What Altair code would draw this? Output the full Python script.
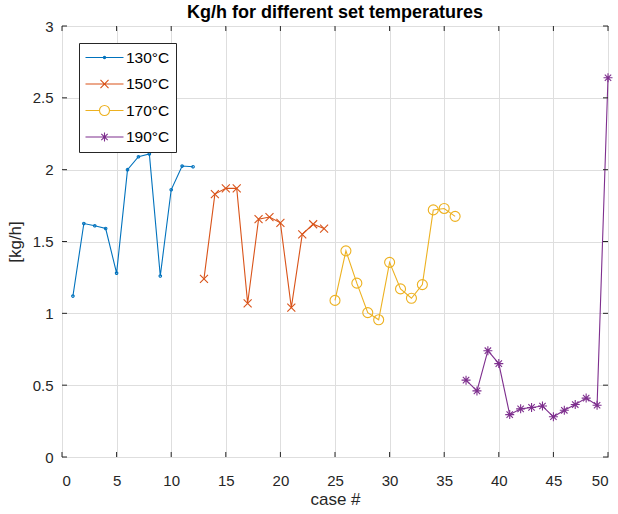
import altair as alt
import pandas as pd

temps = ["130°C", "150°C", "170°C", "190°C"]
colors = ["#0072BD", "#D95319", "#EDB120", "#7E2F8E"]

case_130 = list(range(1, 13))
kgh_130 = [1.12, 1.625, 1.61, 1.59, 1.28, 2.0, 2.09, 2.11, 1.26, 1.86, 2.025, 2.02]
case_150 = list(range(13, 25))
kgh_150 = [1.24, 1.83, 1.87, 1.87, 1.07, 1.655, 1.67, 1.63, 1.04, 1.55, 1.62, 1.59]
case_170 = list(range(25, 37))
kgh_170 = [1.09, 1.435, 1.21, 1.005, 0.955, 1.355, 1.17, 1.105, 1.2, 1.72, 1.73, 1.675]
case_190 = list(range(37, 51))
kgh_190 = [0.535, 0.46, 0.74, 0.65, 0.295, 0.335, 0.345, 0.355, 0.28, 0.325, 0.365, 0.41, 0.36, 2.64]

x_ticks = [0, 5, 10, 15, 20, 25, 30, 35, 40, 45, 50]
y_ticks = [0, 0.5, 1, 1.5, 2, 2.5, 3]

rows = []
for t, cs, vs in zip(temps, [case_130, case_150, case_170, case_190],
                     [kgh_130, kgh_150, kgh_170, kgh_190]):
    for c, v in zip(cs, vs):
        rows.append({"case": c, "kgh": v, "temp": t})
df = pd.DataFrame(rows)

W, H = 546, 431
FONT = "Liberation Sans"
AX = "#262626"

point_paths = [
    "M-0.25,0A0.25,0.25 0 1,0 0.25,0A0.25,0.25 0 1,0 -0.25,0Z",
    "M-0.8,-0.8L0.8,0.8M-0.8,0.8L0.8,-0.8",
    "M-1,0A1,1 0 1,0 1,0A1,1 0 1,0 -1,0Z",
    "M-0.9,0L0.9,0M0,-0.9L0,0.9M-0.64,-0.64L0.64,0.64M-0.64,0.64L0.64,-0.64",
]
legend_paths = [
    "M-2.5,0L2.5,0M-0.15,0A0.15,0.15 0 1,0 0.15,0A0.15,0.15 0 1,0 -0.15,0Z",
    "M-2.5,0L2.5,0M-0.53,-0.53L0.53,0.53M-0.53,0.53L0.53,-0.53",
    "M-2.5,0L-0.66,0M0.66,0L2.5,0M-0.66,0A0.66,0.66 0 1,0 0.66,0A0.66,0.66 0 1,0 -0.66,0Z",
    "M-2.5,0L2.5,0M0,-0.6L0,0.6M-0.42,-0.42L0.42,0.42M-0.42,0.42L0.42,-0.42",
]

xs = alt.Scale(domain=[0, 50], nice=False, zero=False)
ys = alt.Scale(domain=[0, 3], nice=False, zero=False)
cs = alt.Scale(domain=temps, range=colors)

x_axis = alt.Axis(values=x_ticks, title="case #", grid=True, domain=False, ticks=False,
                  labelPadding=16, titlePadding=3, format="~g")
y_axis = alt.Axis(values=y_ticks, title="[kg/h]", grid=True, domain=False, ticks=False,
                  labelPadding=9, titlePadding=8, format="~g")
x_enc = alt.X("case:Q", scale=xs, axis=x_axis)
y_enc = alt.Y("kgh:Q", scale=ys, axis=y_axis)

lines = alt.Chart(df).mark_line(strokeWidth=1.1).encode(
    x=x_enc, y=y_enc,
    color=alt.Color("temp:N", scale=cs, legend=None),
    detail="temp:N",
)

points = alt.Chart(df).mark_point(filled=False, strokeWidth=1.1, opacity=1, size=100).encode(
    x=x_enc, y=y_enc,
    color=alt.Color("temp:N", scale=cs, legend=None),
    shape=alt.Shape("temp:N", scale=alt.Scale(domain=temps, range=point_paths), legend=None),
)

leg = dict(
    title=None, orient="none", legendX=17, legendY=17, padding=6,
    strokeColor=AX, fillColor="white", cornerRadius=0,
    labelFontSize=15.5, labelColor="#000000", labelFont=FONT,
    symbolSize=231, symbolStrokeWidth=1.1, symbolOpacity=1,
    symbolOffset=11, labelOffset=13, rowPadding=9.5,
)
legend_layer = alt.Chart(df).mark_point(filled=False, opacity=0, size=100).encode(
    x=x_enc, y=y_enc,
    color=alt.Color("temp:N", scale=cs, legend=alt.Legend(**leg)),
    shape=alt.Shape("temp:N", scale=alt.Scale(domain=temps, range=legend_paths),
                    legend=alt.Legend(**leg)),
)

xt = pd.DataFrame({"case": x_ticks})
yt = pd.DataFrame({"kgh": y_ticks})
tick_bottom = alt.Chart(xt).mark_rule(color=AX, strokeWidth=1).encode(
    x=x_enc, y=alt.value(H), y2=alt.value(H - 5))
tick_top = alt.Chart(xt).mark_rule(color=AX, strokeWidth=1).encode(
    x=x_enc, y=alt.value(0), y2=alt.value(5))
tick_left = alt.Chart(yt).mark_rule(color=AX, strokeWidth=1).encode(
    y=y_enc, x=alt.value(0), x2=alt.value(5))
tick_right = alt.Chart(yt).mark_rule(color=AX, strokeWidth=1).encode(
    y=y_enc, x=alt.value(W), x2=alt.value(W - 5))

chart = alt.layer(
    lines, tick_bottom, tick_top, tick_left, tick_right, points, legend_layer
).resolve_scale(
    color="independent", shape="independent"
).properties(
    width=W, height=H,
    title=alt.TitleParams("Kg/h for different set temperatures", fontSize=18,
                          fontWeight="bold", color="#000000", font=FONT,
                          offset=-3, anchor="middle", frame="group"),
    autosize=alt.AutoSizeParams(type="none"),
    padding={"left": 62, "top": 26, "right": 10, "bottom": 57},
).configure(
    font=FONT, background="white"
).configure_view(
    stroke=AX, strokeWidth=1
).configure_axis(
    gridColor="#dedede", gridWidth=1, labelFontSize=15, labelColor=AX,
    titleFontSize=17, titleColor=AX, titleFontWeight="normal", labelFont=FONT, titleFont=FONT,
)

chart.save("out.html", embed_options={"renderer": "svg", "actions": False})
